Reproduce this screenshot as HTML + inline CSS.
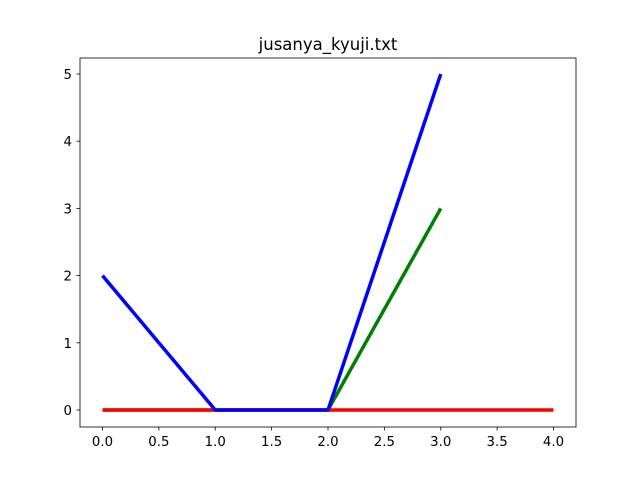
<!DOCTYPE html>
<html><head><meta charset="utf-8"><style>
body{margin:0;background:#fff}
svg text{font-family:"DejaVu Sans","Liberation Sans",sans-serif;font-size:13.3px;fill:#000}
</style></head><body>
<svg id="chart" width="640" height="480">
<rect x="0" y="0" width="640" height="480" fill="#fff"/>
<text x="328" y="50" text-anchor="middle" style="font-size:16.5px">jusanya_kyuji.txt</text>
<g id="marks"></g>
<rect x="80" y="58" width="496" height="369" fill="none" stroke="#000" stroke-width="0.8"/>
<g id="xticks"></g><g id="yticks"></g>
</svg>
<script>
const xTicks=[0,0.5,1,1.5,2,2.5,3,3.5,4];
const yTicks=[0,1,2,3,4,5];
const greenVals=[0,0,0,3];
const blueVals=[2,0,0,5];
const redVals=[0,0,0,0,0];
const NS="http://www.w3.org/2000/svg";
function xs(v){return 102.5+v*112.75;}
function ys(v){return 410-v*67.2;}
const marks=document.getElementById('marks');
function line(vals,color,name){
  const p=document.createElementNS(NS,'polyline');
  p.setAttribute('points',vals.map((v,i)=>xs(i)+','+ys(v)).join(' '));
  p.setAttribute('fill','none');p.setAttribute('stroke',color);p.setAttribute('stroke-width','3.5');
  
  
  marks.appendChild(p);
}
line(greenVals,'#008000','green-series');
line(redVals,'#ff0000','red-series');
line(blueVals,'#0000ff','blue-series');
const xg=document.getElementById('xticks');
xTicks.forEach(t=>{
  const l=document.createElementNS(NS,'line');
  l.setAttribute('x1',xs(t));l.setAttribute('x2',xs(t));l.setAttribute('y1',427);l.setAttribute('y2',430.5);
  l.setAttribute('stroke','#000');l.setAttribute('stroke-width','0.8');
  
  
  xg.appendChild(l);
  const tx=document.createElementNS(NS,'text');
  tx.setAttribute('x',xs(t));tx.setAttribute('y',446);tx.setAttribute('text-anchor','middle');
  tx.textContent=t.toFixed(1);
  
  
  xg.appendChild(tx);
});
const yg=document.getElementById('yticks');
yTicks.forEach(t=>{
  const l=document.createElementNS(NS,'line');
  l.setAttribute('x1',76.5);l.setAttribute('x2',80);l.setAttribute('y1',ys(t));l.setAttribute('y2',ys(t));
  l.setAttribute('stroke','#000');l.setAttribute('stroke-width','0.8');
  
  
  yg.appendChild(l);
  const tx=document.createElementNS(NS,'text');
  tx.setAttribute('x',72);tx.setAttribute('y',ys(t)+5);tx.setAttribute('text-anchor','end');
  tx.textContent=t;
  
  
  yg.appendChild(tx);
});
</script>
</body></html>
